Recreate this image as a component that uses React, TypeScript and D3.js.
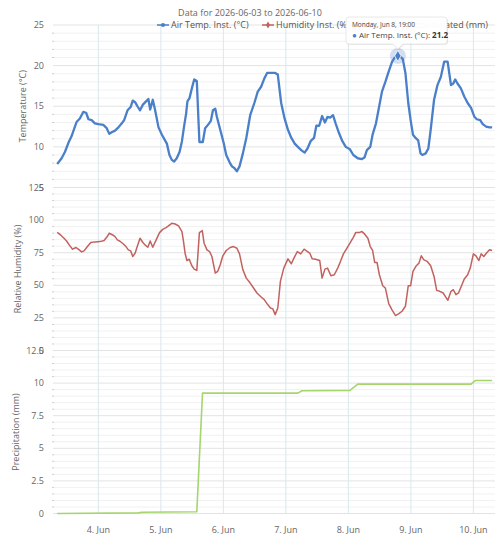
import React from "react";
import * as d3 from "d3";

// hours since 2026-06-03 00:00, value
const airTemp: [number, number][] = [
  [8.2, 7.9], [9.9, 8.6], [11.2, 9.4], [12.5, 10.5], [13.7, 11.3], [15.0, 12.5], [15.7, 13.1], [16.9, 13.5],
  [18.2, 14.3], [19.3, 14.2], [20.2, 13.4], [21.4, 13.3], [22.7, 12.9], [24.0, 12.8], [25.9, 12.7], [27.2, 12.3],
  [28.2, 11.6], [29.1, 11.8], [30.4, 12.0], [31.7, 12.4], [33.0, 12.9], [33.9, 13.3], [35.2, 14.5], [36.4, 14.9],
  [37.2, 15.7], [38.1, 15.5], [39.0, 15.0], [40.0, 14.5], [41.1, 15.2], [42.3, 15.6], [43.2, 15.9], [43.9, 14.6],
  [44.9, 15.8], [45.8, 14.5], [47.1, 12.4], [48.4, 11.5], [49.6, 10.8], [50.3, 10.4], [51.3, 9.0], [52.2, 8.4],
  [53.1, 8.2], [54.1, 8.6], [55.2, 9.4], [56.1, 10.7], [56.9, 12.5], [57.7, 14.1], [58.2, 15.6], [59.0, 16.0],
  [59.9, 17.2], [60.8, 18.3], [61.8, 18.1], [62.8, 10.6], [64.1, 10.6], [65.0, 12.3], [66.3, 12.8], [67.2, 13.2],
  [68.0, 14.5], [68.9, 14.7], [69.5, 13.7], [70.8, 12.1], [72.1, 10.5], [73.1, 9.0], [74.4, 8.1], [75.3, 7.6],
  [76.2, 7.4], [77.2, 7.0], [78.2, 7.6], [79.5, 9.2], [80.8, 11.1], [82.3, 13.9], [83.9, 15.4], [85.2, 16.8],
  [86.5, 17.4], [87.7, 18.4], [88.8, 19.1], [90.3, 19.1], [91.9, 19.1], [92.9, 18.9], [94.2, 15.4], [95.5, 13.5],
  [96.8, 12.1], [98.1, 11.1], [99.4, 10.4], [100.6, 10.0], [101.9, 9.6], [103.2, 9.3], [104.3, 9.8], [105.5, 10.7],
  [106.8, 11.1], [107.7, 12.6], [108.8, 12.6], [109.9, 13.8], [111.0, 13.0], [112.0, 13.7], [113.0, 13.6], [114.1, 13.9],
  [115.1, 12.9], [116.4, 11.7], [117.7, 10.7], [119.0, 10.0], [120.6, 9.7], [121.9, 9.0], [123.6, 8.6], [125.2, 8.5],
  [126.2, 8.7], [127.1, 9.6], [128.4, 10.0], [129.3, 11.5], [130.6, 12.9], [131.6, 14.6], [132.9, 16.8], [134.2, 18.0],
  [135.5, 19.3], [136.8, 20.5], [137.8, 21.0], [139.0, 21.2], [140.0, 21.1], [140.9, 20.8], [141.9, 19.1], [143.0, 15.4],
  [143.9, 13.3], [144.8, 11.5], [145.8, 11.1], [146.8, 10.8], [147.7, 9.2], [148.4, 9.0], [149.7, 9.2], [150.7, 9.8],
  [151.6, 12.1], [152.9, 15.8], [154.2, 17.6], [155.5, 18.6], [156.8, 20.5], [158.1, 20.5], [159.4, 17.6], [160.3, 17.8],
  [161.0, 18.3], [161.9, 17.8], [163.2, 17.2], [164.5, 16.2], [165.8, 15.4], [167.1, 14.8], [168.4, 13.7], [169.3, 13.4],
  [170.6, 13.3], [171.6, 12.8], [172.9, 12.5], [174.2, 12.4], [175.2, 12.4],
];

const humidity: [number, number][] = [
  [8.2, 90.6], [9.5, 88.6], [10.8, 86.1], [11.8, 84.0], [12.8, 81.0], [14.1, 77.7], [15.4, 79.0], [16.3, 77.7],
  [17.6, 75.6], [18.5, 76.4], [19.8, 79.7], [21.1, 82.8], [22.7, 83.3], [24.6, 83.5], [26.2, 84.3], [27.2, 86.8],
  [28.2, 89.9], [29.5, 88.6], [30.4, 87.3], [31.3, 84.8], [32.3, 83.8], [33.6, 81.7], [34.6, 79.7], [35.5, 77.2],
  [36.4, 76.4], [37.2, 72.1], [38.1, 74.6], [39.0, 80.2], [40.0, 86.1], [41.1, 82.8], [41.9, 81.0], [43.0, 79.2],
  [43.9, 84.0], [44.9, 79.2], [46.2, 84.8], [47.5, 90.4], [48.7, 92.9], [50.0, 94.2], [50.9, 95.5], [52.2, 97.5],
  [53.5, 97.0], [54.8, 95.5], [56.1, 91.2], [56.7, 83.5], [57.3, 74.6], [58.0, 69.0], [58.9, 70.0], [59.9, 65.0],
  [60.8, 62.4], [61.8, 61.4], [62.8, 90.4], [63.9, 91.9], [64.6, 82.3], [65.7, 77.2], [66.7, 75.9], [67.6, 72.1],
  [68.9, 59.4], [69.8, 60.6], [70.8, 65.7], [71.8, 72.6], [73.1, 76.7], [74.6, 79.0], [75.9, 79.7], [77.2, 78.4],
  [78.2, 74.1], [79.5, 61.9], [80.8, 55.5], [82.3, 51.7], [83.6, 47.9], [84.9, 44.1], [86.5, 41.0], [87.7, 39.0],
  [89.0, 35.2], [90.1, 32.6], [91.0, 31.9], [91.9, 27.5], [92.9, 32.6], [93.9, 53.0], [95.2, 63.2], [96.8, 70.3],
  [98.1, 66.5], [99.1, 70.8], [100.4, 75.9], [101.7, 74.1], [103.0, 77.7], [104.3, 75.9], [105.2, 74.6], [106.1, 70.3],
  [107.4, 70.0], [109.0, 69.0], [109.9, 55.5], [111.0, 62.4], [112.0, 63.2], [113.3, 57.3], [114.6, 58.1], [115.9, 63.2],
  [116.8, 67.5], [118.1, 74.1], [119.4, 78.4], [120.6, 82.3], [121.9, 86.8], [122.8, 90.4], [124.1, 90.4], [125.2, 91.2],
  [126.2, 89.4], [127.5, 86.1], [128.4, 79.7], [129.3, 76.7], [130.1, 67.5], [131.0, 67.5], [131.9, 58.1], [133.2, 49.7],
  [134.2, 47.9], [135.5, 35.9], [136.8, 30.9], [138.1, 26.8], [139.4, 28.3], [140.6, 30.1], [141.9, 33.9], [143.0, 49.7],
  [143.9, 49.7], [144.8, 60.6], [146.1, 65.0], [147.1, 67.0], [148.0, 72.6], [149.0, 69.5], [150.3, 68.3], [151.6, 65.0],
  [152.9, 56.8], [153.9, 46.1], [155.1, 45.4], [156.4, 44.1], [157.4, 41.0], [158.2, 38.5], [159.4, 45.4], [160.3, 46.6],
  [161.3, 42.8], [162.3, 44.1], [163.6, 50.4], [164.5, 54.8], [165.8, 58.1], [166.8, 63.2], [168.0, 74.1], [169.0, 72.6],
  [170.1, 69.0], [171.0, 74.1], [172.0, 72.1], [173.2, 75.1], [174.2, 77.2], [175.2, 76.7],
];

const precip: [number, number][] = [
  [8.2, 0], [39.4, 0.05], [40.7, 0.1], [61.8, 0.13], [64.0, 9.23], [100.6, 9.23], [102.2, 9.41],
  [120.6, 9.44], [123.6, 9.92], [167.1, 9.92], [168.8, 10.2], [175.2, 10.2],
];

const tempTicks = [5, 10, 15, 20, 25];
const humTicks = [0, 25, 50, 75, 100, 125];
const precipTicks = [0, 2.5, 5, 7.5, 10, 12.5];

const seriesNames = ["Air Temp. Inst. (°C)", "Humidity Inst. (%)", "Precipitation Accumulated (mm)"];
const colors = ["#4a7fc9", "#c2625f", "#a6d56e"];

const hoverHour = 139; // Monday, Jun 8, 19:00
const hoverValue = 21.2;

const base = new Date(2026, 5, 3);
const toDate = (h: number) => new Date(base.getTime() + h * 3600 * 1000);

const W = 500;
const H = 545;
const left = 52;
const right = 495;
const font = "'Open Sans', sans-serif";

const x = d3.scaleTime().domain([toDate(6.2), toDate(176.3)]).range([left, right]);

const panels = [
  { title: "Temperature (°C)", y: d3.scaleLinear().domain([5, 25]).range([187.5, 25]), ticks: tempTicks, minor: 1, data: airTemp, color: colors[0], width: 2.3, titleX: 26 },
  { title: "Relative Humidity (%)", y: d3.scaleLinear().domain([0, 125]).range([350.5, 187.5]), ticks: humTicks, minor: 5, data: humidity, color: colors[1], width: 1.5, titleX: 21 },
  { title: "Precipitation (mm)", y: d3.scaleLinear().domain([0, 12.5]).range([513.5, 350.5]), ticks: precipTicks, minor: 0.5, data: precip, color: colors[2], width: 1.6, titleX: 19 },
];

const days = d3.timeDay.range(toDate(24), toDate(170));
const dayFmt = d3.timeFormat("%-d. %b");

export default function App() {
  const hx = x(toDate(hoverHour));
  const hy = panels[0].y(hoverValue);
  const tipL = 346, tipR = 447, tipT = 17, tipB = 44;
  const tipPath = `M${tipL + 3},${tipT} H${tipR - 3} Q${tipR},${tipT} ${tipR},${tipT + 3} V${tipB - 3} Q${tipR},${tipB} ${tipR - 3},${tipB} H${hx + 5} L${hx},${tipB + 5} L${hx - 5},${tipB} H${tipL + 3} Q${tipL},${tipB} ${tipL},${tipB - 3} V${tipT + 3} Q${tipL},${tipT} ${tipL + 3},${tipT} Z`;

  return (
    <svg width={W} height={H} style={{ position: "absolute", left: 0, top: 0, background: "#fff" }} fontFamily={font}>
      {/* horizontal grid */}
      {panels.map((p, i) => {
        const [d0, d1] = p.y.domain();
        const minors = d3.range(d0, d1 + 1e-9, p.minor).filter((v) => !p.ticks.includes(+v.toFixed(3)));
        return (
          <g key={"g" + i}>
            {minors.map((v) => (
              <g key={v}>
                <line x1={left + 1} x2={right} y1={p.y(v)} y2={p.y(v)} stroke="#f1f1f1" />
                <line x1={left} x2={left + 2} y1={p.y(v)} y2={p.y(v)} stroke="#d0d0d0" />
              </g>
            ))}
            {p.ticks.map((v) => (
              <line key={v} x1={left + 1} x2={right} y1={p.y(v)} y2={p.y(v)} stroke="#e3e3e3" />
            ))}
          </g>
        );
      })}
      {/* vertical grid */}
      {days.map((d) => (
        <line key={+d} x1={x(d)} x2={x(d)} y1={25} y2={514} stroke="#d9e7ec" />
      ))}
      {/* y labels and titles */}
      {panels.map((p, i) => (
        <g key={"l" + i} fontSize={9} fill="#666">
          {p.ticks.map((v) => (
            <text key={v} x={44} y={p.y(v) + 3} textAnchor="end">
              {String(v)}
            </text>
          ))}
          <text
            transform={`translate(${p.titleX},${(p.y.range()[0] + p.y.range()[1]) / 2}) rotate(-90)`}
            textAnchor="middle"
          >
            {p.title}
          </text>
        </g>
      ))}
      {/* x labels */}
      {days.map((d) => (
        <text key={"x" + +d} x={x(d)} y={533} fontSize={9} fill="#666" textAnchor="middle">
          {dayFmt(d)}
        </text>
      ))}
      {/* series */}
      {panels.map((p, i) => {
        const line = d3
          .line<[number, number]>()
          .x((d) => x(toDate(d[0])))
          .y((d) => p.y(d[1]));
        return (
          <path key={"s" + i} d={line(p.data) || ""} fill="none" stroke={p.color} strokeWidth={p.width} strokeLinejoin="round" />
        );
      })}
      {/* hover point */}
      <circle cx={hx} cy={hy} r={8} fill={colors[0]} opacity={0.25} />
      <path transform={`translate(${hx},${hy})`} d={d3.symbol(d3.symbolDiamond, 36)() || ""} fill={colors[0]} stroke="#fff" strokeWidth={0.8} />
      {/* title */}
      <text x={250} y={16} fontSize={9} fill="#666" textAnchor="middle">
        Data for 2026-06-03 to 2026-06-10
      </text>
      {/* legend */}
      <g fontSize={9} fill="#555">
        {[157, 262].map((lx, i) => (
          <g key={i}>
            <line x1={lx} x2={lx + 12} y1={25} y2={25} stroke={colors[i]} strokeWidth={1.5} />
            <path transform={`translate(${lx + 6},25)`} d={d3.symbol(i === 0 ? d3.symbolCircle : d3.symbolDiamond, 14)() || ""} fill={colors[i]} />
            <text x={lx + 14} y={28}>
              {seriesNames[i]}
            </text>
          </g>
        ))}
        <line x1={350} x2={362} y1={25} y2={25} stroke={colors[2]} strokeWidth={1.5} />
        <text x={488} y={28} textAnchor="end">
          {seriesNames[2]}
        </text>
      </g>
      {/* tooltip */}
      <g>
        <path transform="translate(1,1)" d={tipPath} fill="#000" opacity={0.08} />
        <path d={tipPath} fill="#fff" fillOpacity={0.97} stroke="#e2e2e2" strokeWidth={0.8} />
        <text x={tipL + 6} y={tipT + 10} fontSize={6.5} fill="#444">
          Monday, Jun 8, 19:00
        </text>
        <text x={tipL + 6} y={tipT + 21} fontSize={8} fill="#444">
          <tspan fill={colors[0]}>●</tspan> {seriesNames[0]}: <tspan fontWeight="bold" fill="#333">21.2</tspan>
        </text>
      </g>
    </svg>
  );
}
